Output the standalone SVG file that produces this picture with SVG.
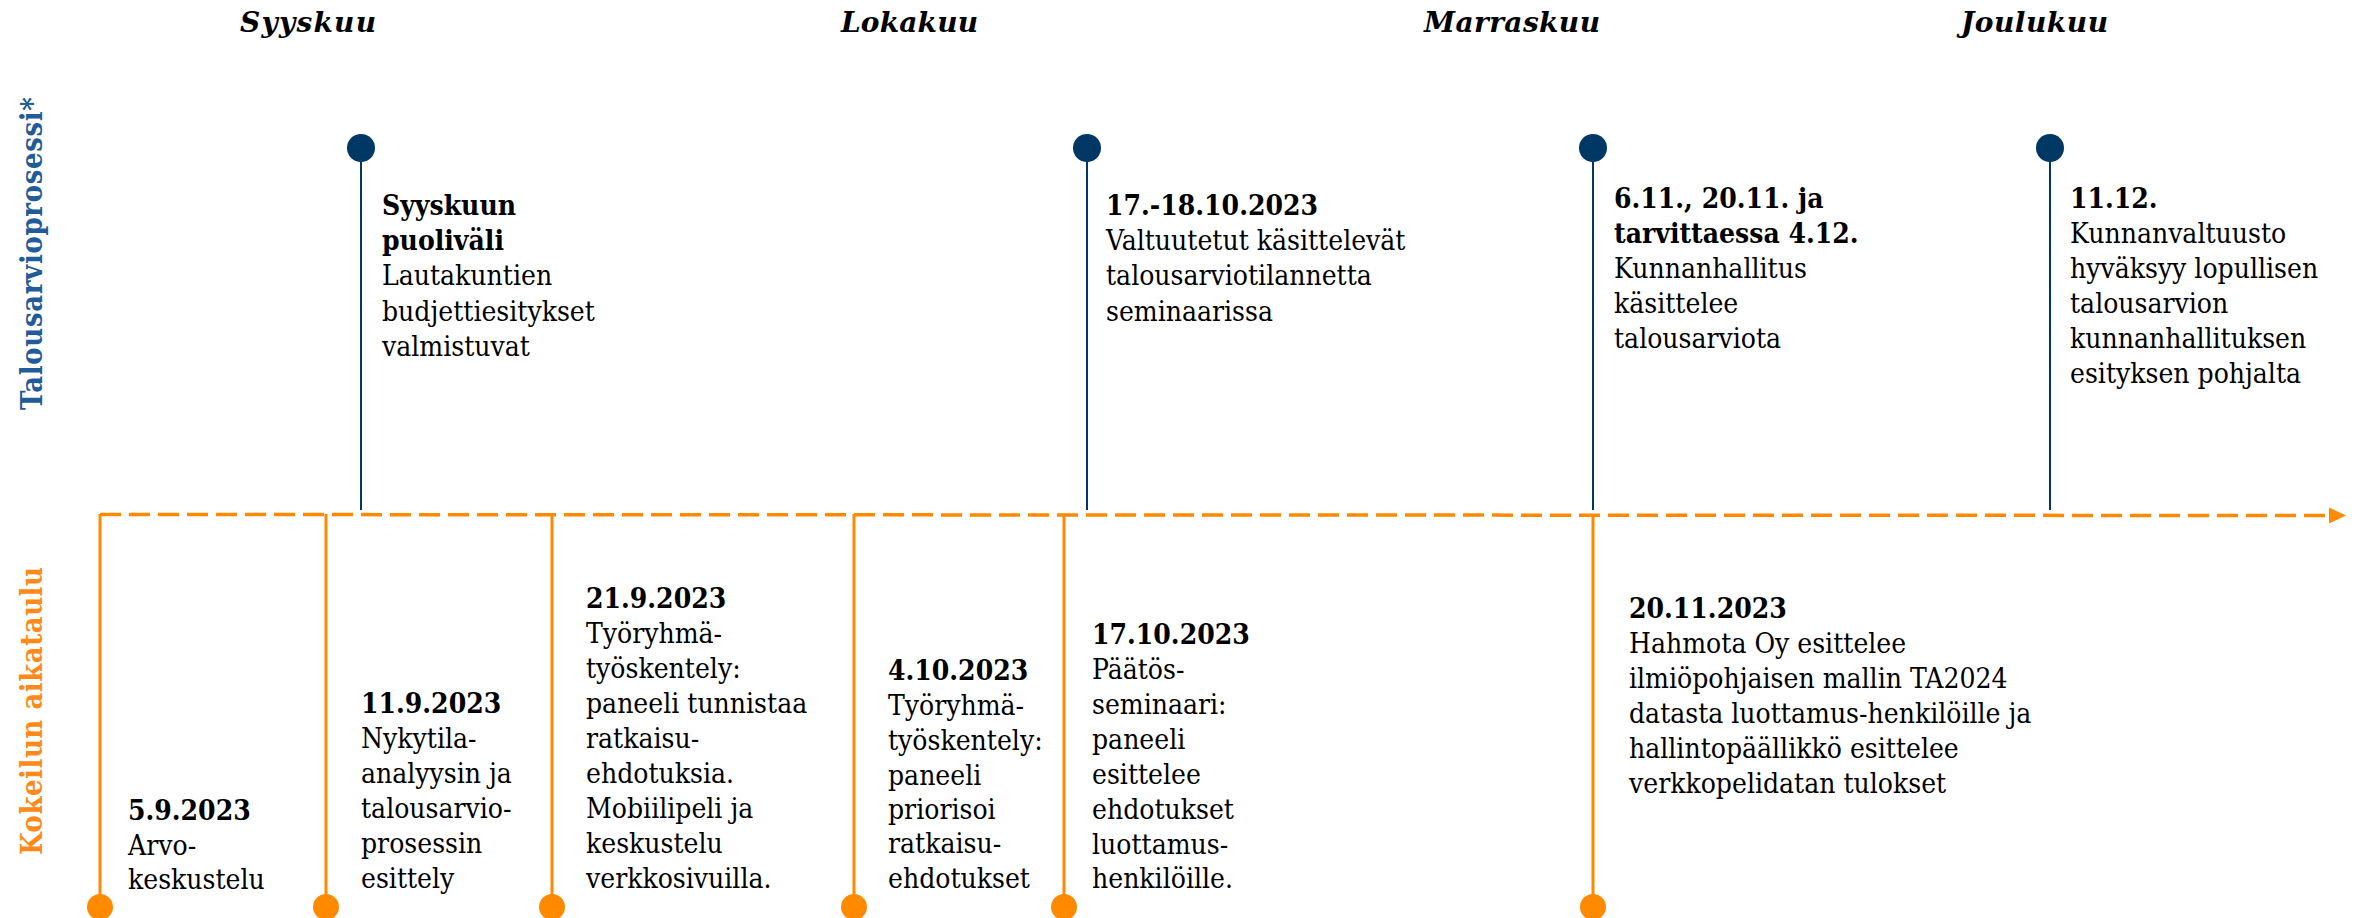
<svg xmlns="http://www.w3.org/2000/svg" width="2356" height="918" viewBox="0 0 2356 918">
<style>
.t{font-family:"DejaVu Serif Condensed","DejaVu Serif",serif;font-stretch:condensed;font-size:28px;fill:#000}
.b{font-weight:bold}
.m{font-family:"DejaVu Serif",serif;font-size:28px;font-weight:bold;font-style:italic;fill:#000}
.lbl{font-family:"DejaVu Serif Condensed","DejaVu Serif",serif;font-stretch:condensed;font-size:29px;font-weight:bold}
.stemB{stroke:#003865;stroke-width:2;fill:none}
.dotB{fill:#003865}
.stemO{stroke:#FF8A00;stroke-width:3;fill:none}
.dotO{fill:#FF8A00}
</style>
<rect width="2356" height="918" fill="#fff"/>
<g id="months">
<text class="m" x="240" y="32" textLength="136">Syyskuu</text>
<text class="m" x="841" y="32" textLength="137">Lokakuu</text>
<text class="m" x="1424" y="32" textLength="176">Marraskuu</text>
<text class="m" x="1961" y="32" textLength="147">Joulukuu</text>
</g>
<g id="lane-labels">
<text class="lbl" fill="#1F5C99" transform="translate(42,410) rotate(-90)" textLength="313">Talousarvioprosessi*</text>
<text class="lbl" fill="#FF8A1A" transform="translate(42,855) rotate(-90)" textLength="288">Kokeilun aikataulu</text>
</g>
<g id="connectors">
<line x1="100" y1="514.5" x2="2330" y2="515.5" stroke="#FF8A00" stroke-width="3.5" stroke-dasharray="21 8"/>
<polygon points="2329,507.5 2346,515.5 2329,523.5" fill="#FF8A00"/>
</g>
<g id="top-sep">
<line class="stemB" x1="361" y1="148" x2="361" y2="510"/><circle class="dotB" cx="361" cy="148" r="14"/>
<text class="t"><tspan class="b" x="382" y="215">Syyskuun</tspan><tspan class="b" x="382" y="250">puoliväli</tspan><tspan x="382" y="285">Lautakuntien</tspan><tspan x="382" y="321">budjettiesitykset</tspan><tspan x="382" y="356">valmistuvat</tspan></text>
</g>
<g id="top-oct">
<line class="stemB" x1="1087" y1="148" x2="1087" y2="510"/><circle class="dotB" cx="1087" cy="148" r="14"/>
<text class="t"><tspan class="b" x="1106" y="215">17.-18.10.2023</tspan><tspan x="1106" y="250">Valtuutetut käsittelevät</tspan><tspan x="1106" y="285">talousarviotilannetta</tspan><tspan x="1106" y="321">seminaarissa</tspan></text>
</g>
<g id="top-nov">
<line class="stemB" x1="1593" y1="148" x2="1593" y2="510"/><circle class="dotB" cx="1593" cy="148" r="14"/>
<text class="t"><tspan class="b" x="1614" y="208">6.11., 20.11. ja</tspan><tspan class="b" x="1614" y="243">tarvittaessa 4.12.</tspan><tspan x="1614" y="278">Kunnanhallitus</tspan><tspan x="1614" y="313">käsittelee</tspan><tspan x="1614" y="348">talousarviota</tspan></text>
</g>
<g id="top-dec">
<line class="stemB" x1="2050" y1="148" x2="2050" y2="510"/><circle class="dotB" cx="2050" cy="148" r="14"/>
<text class="t"><tspan class="b" x="2070" y="208">11.12.</tspan><tspan x="2070" y="243">Kunnanvaltuusto</tspan><tspan x="2070" y="278">hyväksyy lopullisen</tspan><tspan x="2070" y="313">talousarvion</tspan><tspan x="2070" y="348">kunnanhallituksen</tspan><tspan x="2070" y="383">esityksen pohjalta</tspan></text>
</g>
<g id="bot-0509">
<line class="stemO" x1="100" y1="514" x2="100" y2="907"/><circle class="dotO" cx="100" cy="907" r="13"/>
<text class="t"><tspan class="b" x="128" y="820">5.9.2023</tspan><tspan x="128" y="855">Arvo-</tspan><tspan x="128" y="889">keskustelu</tspan></text>
</g>
<g id="bot-1109">
<line class="stemO" x1="326" y1="514" x2="326" y2="907"/><circle class="dotO" cx="326" cy="907" r="13"/>
<text class="t"><tspan class="b" x="361" y="713">11.9.2023</tspan><tspan x="361" y="748">Nykytila-</tspan><tspan x="361" y="783">analyysin ja</tspan><tspan x="361" y="818">talousarvio-</tspan><tspan x="361" y="853">prosessin</tspan><tspan x="361" y="888">esittely</tspan></text>
</g>
<g id="bot-2109">
<line class="stemO" x1="552" y1="514" x2="552" y2="907"/><circle class="dotO" cx="552" cy="907" r="13"/>
<text class="t"><tspan class="b" x="586" y="608">21.9.2023</tspan><tspan x="586" y="643">Työryhmä-</tspan><tspan x="586" y="678">työskentely:</tspan><tspan x="586" y="713">paneeli tunnistaa</tspan><tspan x="586" y="748">ratkaisu-</tspan><tspan x="586" y="783">ehdotuksia.</tspan><tspan x="586" y="818">Mobiilipeli ja</tspan><tspan x="586" y="853">keskustelu</tspan><tspan x="586" y="888">verkkosivuilla.</tspan></text>
</g>
<g id="bot-0410">
<line class="stemO" x1="854" y1="514" x2="854" y2="907"/><circle class="dotO" cx="854" cy="907" r="13"/>
<text class="t"><tspan class="b" x="888" y="680">4.10.2023</tspan><tspan x="888" y="715">Työryhmä-</tspan><tspan x="888" y="750">työskentely:</tspan><tspan x="888" y="785">paneeli</tspan><tspan x="888" y="819">priorisoi</tspan><tspan x="888" y="853">ratkaisu-</tspan><tspan x="888" y="888">ehdotukset</tspan></text>
</g>
<g id="bot-1710">
<line class="stemO" x1="1064" y1="514" x2="1064" y2="907"/><circle class="dotO" cx="1064" cy="907" r="13"/>
<text class="t"><tspan class="b" x="1092" y="644">17.10.2023</tspan><tspan x="1092" y="679">Päätös-</tspan><tspan x="1092" y="714">seminaari:</tspan><tspan x="1092" y="749">paneeli</tspan><tspan x="1092" y="784">esittelee</tspan><tspan x="1092" y="819">ehdotukset</tspan><tspan x="1092" y="854">luottamus-</tspan><tspan x="1092" y="888">henkilöille.</tspan></text>
</g>
<g id="bot-2011">
<line class="stemO" x1="1593" y1="515" x2="1593" y2="907"/><circle class="dotO" cx="1593" cy="907" r="13"/>
<text class="t"><tspan class="b" x="1629" y="618">20.11.2023</tspan><tspan x="1629" y="653">Hahmota Oy esittelee</tspan><tspan x="1629" y="688">ilmiöpohjaisen mallin TA2024</tspan><tspan x="1629" y="723">datasta luottamus-henkilöille ja</tspan><tspan x="1629" y="758">hallintopäällikkö esittelee</tspan><tspan x="1629" y="793">verkkopelidatan tulokset</tspan></text>
</g>
</svg>
